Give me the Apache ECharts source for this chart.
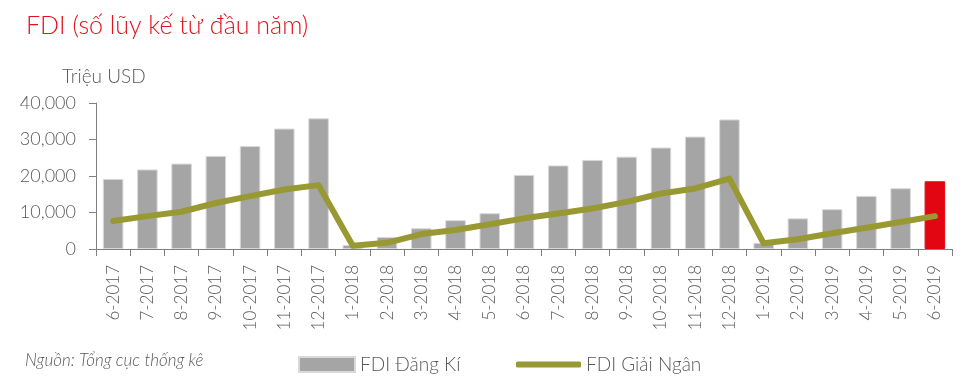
<!DOCTYPE html>
<html>
<head>
<meta charset="utf-8">
<script src="https://cdn.jsdelivr.net/npm/echarts@6/dist/echarts.min.js"></script>
<style>
html,body{margin:0;padding:0;background:#fff;}
#chart{width:976px;height:389px;}
</style>
</head>
<body>
<div id="chart"></div>
<script>
var categories = ['6-2017','7-2017','8-2017','9-2017','10-2017','11-2017','12-2017','1-2018','2-2018','3-2018','4-2018','5-2018','6-2018','7-2018','8-2018','9-2018','10-2018','11-2018','12-2018','1-2019','2-2019','3-2019','4-2019','5-2019','6-2019'];
var registered = [19200,21800,23400,25500,28200,33000,35800,1100,3300,5700,7900,9800,20300,22900,24400,25300,27800,30800,35500,1700,8400,10900,14550,16650,18550];
var disbursed = [7650,9000,10200,12600,14500,16300,17500,900,1700,4100,5200,6800,8400,9700,11100,12900,15200,16600,19300,1550,2650,4300,5800,7400,9000];
var yTicks = [0,10000,20000,30000,40000];

var font = "Lato, 'Open Sans', sans-serif";
var barData = registered.map(function(v,i){
  if (i === registered.length - 1) {
    return {value: v, itemStyle: {color: '#e20613', borderColor: '#e20613'}};
  }
  return v;
});

var chart = echarts.init(document.getElementById('chart'));
chart.setOption({
  animation: false,
  backgroundColor: '#fff',
  textStyle: {fontFamily: font},
  title: {
    text: 'FDI (số lũy kế từ đầu năm)',
    left: 26, top: 13, padding: 0,
    textStyle: {color: '#e3101d', fontSize: 25, fontWeight: 300, fontFamily: font}
  },
  graphic: [
    {type: 'text', left: 62, top: 67, style: {text: 'Triệu USD', fill: '#595959', font: "300 19px Lato, sans-serif"}},
    {type: 'text', x: 25, y: 352, style: {text: 'Nguồn: Tổng cục thống kê', fill: '#595959', font: "italic 300 17px Lato, sans-serif"}}
  ],
  legend: [
    {
      data: ['FDI Đăng Kí'], left: 298, top: 355, padding: 0,
      itemWidth: 56, itemHeight: 15, icon: 'rect',
      textStyle: {color: '#595959', fontSize: 19, fontWeight: 300, fontFamily: font}
    },
    {
      data: ['FDI Giải Ngân'], left: 516, top: 355, padding: 0,
      itemWidth: 65, itemHeight: 6, icon: 'roundRect',
      textStyle: {color: '#595959', fontSize: 19, fontWeight: 300, fontFamily: font}
    }
  ],
  grid: {left: 96, right: 24, top: 103, bottom: 140, containLabel: false},
  xAxis: {
    type: 'category',
    data: categories,
    boundaryGap: true,
    axisLine: {lineStyle: {color: '#7f7f7f', width: 1}},
    axisTick: {show: true, interval: 0, length: 7, lineStyle: {color: '#7f7f7f'}},
    axisLabel: {interval: 0, rotate: 90, margin: 16, color: '#595959', fontSize: 17, fontWeight: 300, fontFamily: font}
  },
  yAxis: {
    type: 'value',
    min: yTicks[0], max: yTicks[yTicks.length-1], interval: 10000,
    axisLine: {show: true, lineStyle: {color: '#7f7f7f', width: 1}},
    axisTick: {show: true, length: 7, lineStyle: {color: '#7f7f7f'}},
    splitLine: {show: false},
    axisLabel: {
      color: '#595959', fontSize: 18, margin: 20, fontWeight: 300, fontFamily: font,
      formatter: function(v){ return v.toLocaleString('en-US'); }
    }
  },
  series: [
    {
      name: 'FDI Đăng Kí', type: 'bar', data: barData, barWidth: '60%',
      itemStyle: {color: '#a5a5a5', borderColor: '#d9d9d9', borderWidth: 1}
    },
    {
      name: 'FDI Giải Ngân', type: 'line', data: disbursed, symbol: 'none',
      lineStyle: {color: '#999933', width: 6, cap: 'round', join: 'round'},
      itemStyle: {color: '#999933'}
    }
  ]
});
</script>
</body>
</html>
